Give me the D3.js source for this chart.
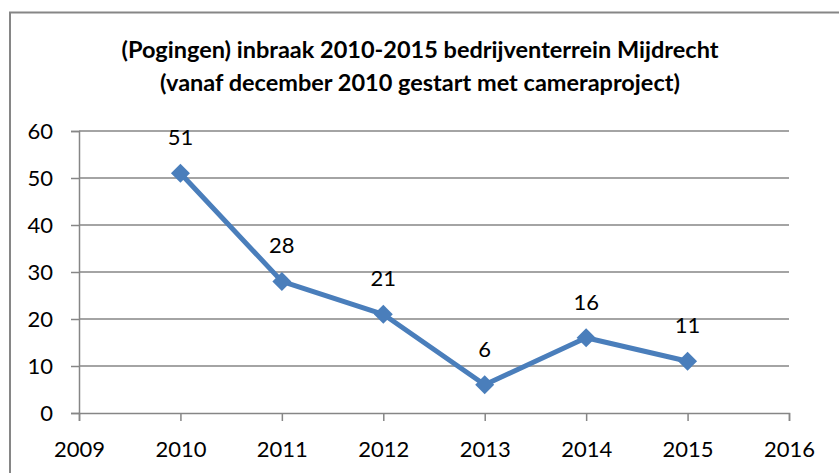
<!DOCTYPE html>
<html>
<head>
<meta charset="utf-8">
<script src="https://cdn.jsdelivr.net/npm/d3@7"></script>
<style>
  html, body { margin: 0; padding: 0; background: #fff; }
  svg { display: block; font-family: Lato, "Open Sans", sans-serif; }
</style>
</head>
<body>
<div id="chart"></div>
<script>
const years = [2010, 2011, 2012, 2013, 2014, 2015];
const incidents = [51, 28, 21, 6, 16, 11];
const xTicks = [2009, 2010, 2011, 2012, 2013, 2014, 2015, 2016];
const yTicks = [0, 10, 20, 30, 40, 50, 60];
const titleLines = [
  '(Pogingen) inbraak 2010-2015 bedrijventerrein Mijdrecht',
  '(vanaf december 2010 gestart met cameraproject)'
];

const width = 839, height = 473;
const margin = { top: 131, right: 50, bottom: 60, left: 79 };
const blue = '#4a7ebb';
const grey = '#868686';

const svg = d3.select('#chart').append('svg')
  .attr('width', width)
  .attr('height', height);

// chart frame (cropped at right and bottom in the original)
svg.append('path')
  .attr('d', `M10,${height} V12.5 H${width}`)
  .attr('fill', 'none')
  .attr('stroke', grey)
  .attr('stroke-width', 2);

let x = d3.scaleLinear()
  .domain([2009, 2016])
  .range([margin.left, width - margin.right]);
let y = d3.scaleLinear()
  .domain([0, 60])
  .range([height - margin.bottom, margin.top]);

// title
let title = svg.append('text')
  .attr('text-anchor', 'middle')
  .attr('font-weight', 'bold')
  .attr('font-size', 23.5)
  .attr('fill', '#000');
title.selectAll('tspan')
  .data(titleLines)
  .enter().append('tspan')
  .attr('x', 420)
  .attr('y', (d, i) => 58 + i * 33)
  .text(d => d);

// gridlines
svg.append('g')
  .selectAll('line')
  .data(yTicks.slice(1))
  .enter().append('line')
  .attr('x1', margin.left)
  .attr('x2', width - margin.right)
  .attr('y1', d => y(d))
  .attr('y2', d => y(d))
  .attr('stroke', grey)
  .attr('stroke-width', 1.5);

// y axis
let yAxis = svg.append('g')
  .attr('transform', `translate(${margin.left},0)`)
  .call(d3.axisLeft(y).tickValues(yTicks).tickSize(8).tickPadding(18).tickFormat(d3.format('d')));

// x axis
let xAxis = svg.append('g')
  .attr('transform', `translate(0,${y(0)})`)
  .call(d3.axisBottom(x).tickValues(xTicks).tickSize(8).tickPadding(20).tickFormat(d3.format('d')));

[yAxis, xAxis].forEach(ax => {
  ax.select('.domain').attr('stroke', grey).attr('stroke-width', 1.5);
  ax.selectAll('.tick line').attr('stroke', grey).attr('stroke-width', 1.5);
  ax.selectAll('.tick text')
    .attr('fill', '#000')
    .attr('font-size', 22)
    .attr('font-family', 'Lato, sans-serif');
});
yAxis.selectAll('.tick text').attr('dy', '0.36em');

// line
let points = years.map((yr, i) => ({ year: yr, value: incidents[i] }));

svg.append('path')
  .datum(points)
  .attr('fill', 'none')
  .attr('stroke', blue)
  .attr('stroke-width', 5)
  .attr('stroke-linejoin', 'round')
  .attr('d', d3.line().x(d => x(d.year)).y(d => y(d.value)));

svg.append('g')
  .selectAll('path')
  .data(points)
  .enter().append('path')
  .attr('transform', d => `translate(${x(d.year)},${y(d.value)})`)
  .attr('d', d3.symbol(d3.symbolDiamond2, 230)())
  .attr('fill', blue);

svg.append('g')
  .selectAll('text')
  .data(points)
  .enter().append('text')
  .attr('x', d => x(d.year))
  .attr('y', d => y(d.value) - 28)
  .attr('text-anchor', 'middle')
  .attr('font-size', 22)
  .attr('fill', '#000')
  .text(d => d.value);
</script>
</body>
</html>
